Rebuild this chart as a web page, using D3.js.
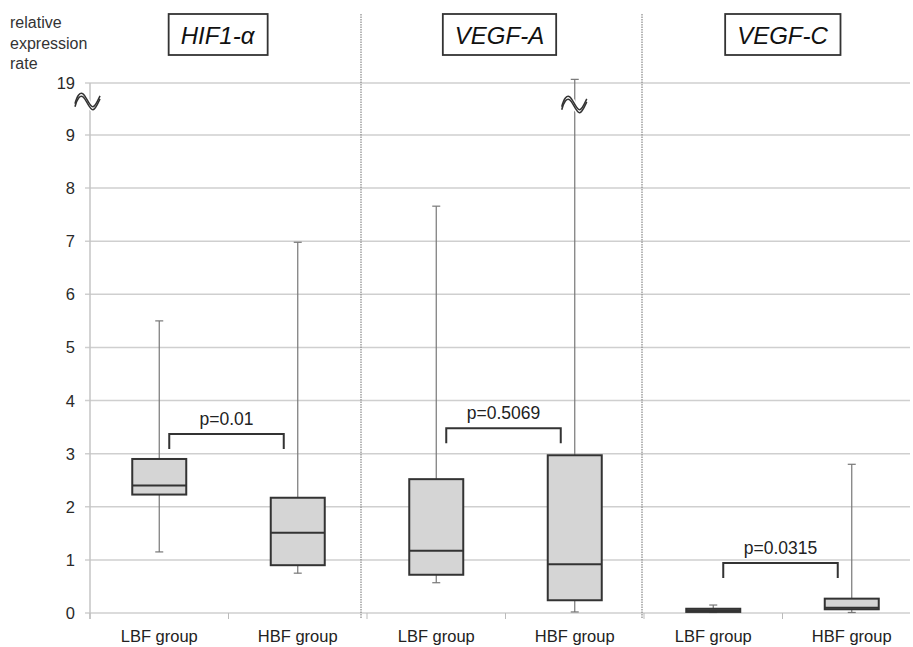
<!DOCTYPE html>
<html>
<head>
<meta charset="utf-8">
<script src="https://cdn.jsdelivr.net/npm/d3@7"></script>
<style>
  body { margin: 0; background: #fff; }
  svg { display: block; font-family: "Liberation Sans", Arial, sans-serif; }
</style>
</head>
<body>
<svg id="chart" width="913" height="647"></svg>
<script>
// genes and groups
const genes = ["HIF1-α", "VEGF-A", "VEGF-C"];
const groups = ["LBF group", "HBF group"];
// box stats, one per gene/group (LBF, HBF, LBF, HBF, LBF, HBF)
const minVals = [1.15, 0.75, 0.57, 0.02, 0.01, 0.01];
const q1Vals  = [2.23, 0.90, 0.72, 0.24, 0.02, 0.07];
const medVals = [2.40, 1.51, 1.17, 0.92, 0.05, 0.10];
const q3Vals  = [2.90, 2.17, 2.52, 2.97, 0.08, 0.27];
const maxVals = [5.50, 6.98, 7.66, 19.7, 0.15, 2.80];
// comparisons
const pLabels = ["p=0.01", "p=0.5069", "p=0.0315"];
const bracketY = [3.37, 3.48, 0.94];
// y ticks (axis is broken between 9 and 19)
const yTicks = [0, 1, 2, 3, 4, 5, 6, 7, 8, 9, 19];

const svg = d3.select("#chart");

const cats = [];
genes.forEach(g => groups.forEach(s => cats.push(g + "|" + s)));
const boxes = cats.map((c, i) => ({
    key: c, gene: c.split("|")[0], group: c.split("|")[1],
    min: minVals[i], q1: q1Vals[i], med: medVals[i], q3: q3Vals[i], max: maxVals[i]
}));

const x = d3.scaleBand().domain(cats).range([90, 921]).padding(0);
const y = d3.scaleLinear().domain([0, 9, 19]).range([613, 135, 83]);
const left = 90, right = 910;
const bw = 54;
const cx = k => x(k) + x.bandwidth() / 2;

// gridlines
svg.append("g")
    .selectAll("line")
    .data(yTicks)
    .join("line")
    .attr("x1", left - 5).attr("x2", right)
    .attr("y1", d => y(d)).attr("y2", d => y(d))
    .attr("stroke", "#cfcfcf").attr("stroke-width", 1.5);

// y axis line
svg.append("line")
    .attr("x1", left).attr("x2", left)
    .attr("y1", y(19)).attr("y2", y(0) + 6)
    .attr("stroke", "#c4c4c4").attr("stroke-width", 1.5);

// y tick labels
svg.append("g")
    .selectAll("text")
    .data(yTicks)
    .join("text")
    .attr("x", 75).attr("y", d => y(d) + 6)
    .attr("text-anchor", "end")
    .attr("font-size", 16.5)
    .attr("fill", "#2a2a2a")
    .text(d => d);

// x category boundary ticks
const bounds = cats.map(c => x(c)).concat([x.range()[1]]);
svg.append("g")
    .selectAll("line")
    .data(bounds)
    .join("line")
    .attr("x1", d => d).attr("x2", d => d)
    .attr("y1", y(0)).attr("y2", y(0) + 6)
    .attr("stroke", "#bbb").attr("stroke-width", 1);

// dotted separators between genes
[2, 4].forEach((i, j) => {
    const sx = x(cats[i]) - (j === 0 ? 6 : 2);
    svg.append("line")
        .attr("x1", sx).attr("x2", sx)
        .attr("y1", 14).attr("y2", y(0) + 6)
        .attr("stroke", "#888").attr("stroke-width", 1.2)
        .attr("stroke-dasharray", "1.5,1");
});

// x labels
svg.append("g")
    .selectAll("text")
    .data(boxes)
    .join("text")
    .attr("x", d => cx(d.key)).attr("y", 642)
    .attr("text-anchor", "middle")
    .attr("font-size", 16.5)
    .attr("fill", "#222")
    .text(d => d.group);

// whiskers
const wg = svg.append("g");
boxes.forEach(d => {
    const c = cx(d.key);
    const top = Math.min(d.max, 19.7);
    wg.append("line").attr("x1", c).attr("x2", c)
        .attr("y1", y(top)).attr("y2", y(d.min))
        .attr("stroke", "#777").attr("stroke-width", 1.2);
    [top, d.min].forEach(v => {
        wg.append("line").attr("x1", c - 4).attr("x2", c + 4)
            .attr("y1", y(v)).attr("y2", y(v))
            .attr("stroke", "#777").attr("stroke-width", 1.2);
    });
});

// boxes
svg.append("g")
    .selectAll("rect")
    .data(boxes)
    .join("rect")
    .attr("x", d => cx(d.key) - bw / 2)
    .attr("width", bw)
    .attr("y", d => y(d.q3))
    .attr("height", d => Math.max(y(d.q1) - y(d.q3), 2))
    .attr("fill", "#d5d5d5")
    .attr("stroke", "#333")
    .attr("stroke-width", 2);

svg.append("g")
    .selectAll("line")
    .data(boxes)
    .join("line")
    .attr("x1", d => cx(d.key) - bw / 2).attr("x2", d => cx(d.key) + bw / 2)
    .attr("y1", d => y(d.med)).attr("y2", d => y(d.med))
    .attr("stroke", "#333").attr("stroke-width", 2);

// axis break marks
function breakMark(bx, by) {
    const wave = "M-13,5 C-11,-3 -8,-7 -5,-5 C-2,-3 2,9 5,8 C8,7 10,1 12,-3";
    const g = svg.append("g").attr("transform", `translate(${bx},${by})`);
    g.append("path").attr("d", wave).attr("transform", "translate(0,1.5)")
        .attr("fill", "none").attr("stroke", "#fff").attr("stroke-width", 6);
    [0, 3].forEach(o => {
        g.append("path").attr("d", wave).attr("transform", `translate(0,${o})`)
            .attr("fill", "none").attr("stroke", "#333").attr("stroke-width", 1.5);
    });
}
breakMark(left - 2, y(17.5) + 8);
breakMark(cx(cats[3]), y(17.5) + 11);

// significance brackets
genes.forEach((g, i) => {
    const x1 = cx(cats[i * 2]) + 10;
    const x2 = cx(cats[i * 2 + 1]) - 14;
    const by = y(bracketY[i]);
    svg.append("path")
        .attr("d", `M${x1},${by + 15} V${by} H${x2} V${by + 15}`)
        .attr("fill", "none").attr("stroke", "#333").attr("stroke-width", 2);
    svg.append("text")
        .attr("x", (x1 + x2) / 2).attr("y", by - 9)
        .attr("text-anchor", "middle")
        .attr("font-size", 17.5)
        .attr("fill", "#222")
        .text(pLabels[i]);
});

// gene title boxes
const titleShift = [-11, -6, 0];
genes.forEach((g, i) => {
    const mid = (x(cats[i * 2]) + x(cats[i * 2 + 1]) + x.bandwidth()) / 2 + titleShift[i];
    const tg = svg.append("g");
    const r = tg.append("rect");
    const t = tg.append("text")
        .attr("x", mid).attr("y", 44)
        .attr("text-anchor", "middle")
        .attr("font-size", 24)
        .attr("font-style", "italic")
        .attr("fill", "#111")
        .text(g);
    const bb = t.node().getBBox();
    r.attr("x", bb.x - 12).attr("y", 14)
        .attr("width", bb.width + 24).attr("height", 41)
        .attr("fill", "#fff").attr("stroke", "#333").attr("stroke-width", 1.8);
});

// y axis title
svg.append("text")
    .attr("font-size", 16)
    .attr("fill", "#333")
    .selectAll("tspan")
    .data(["relative", "expression", "rate"])
    .join("tspan")
    .attr("x", 10)
    .attr("y", (d, i) => 28 + i * 20.5)
    .text(d => d);
</script>
</body>
</html>
